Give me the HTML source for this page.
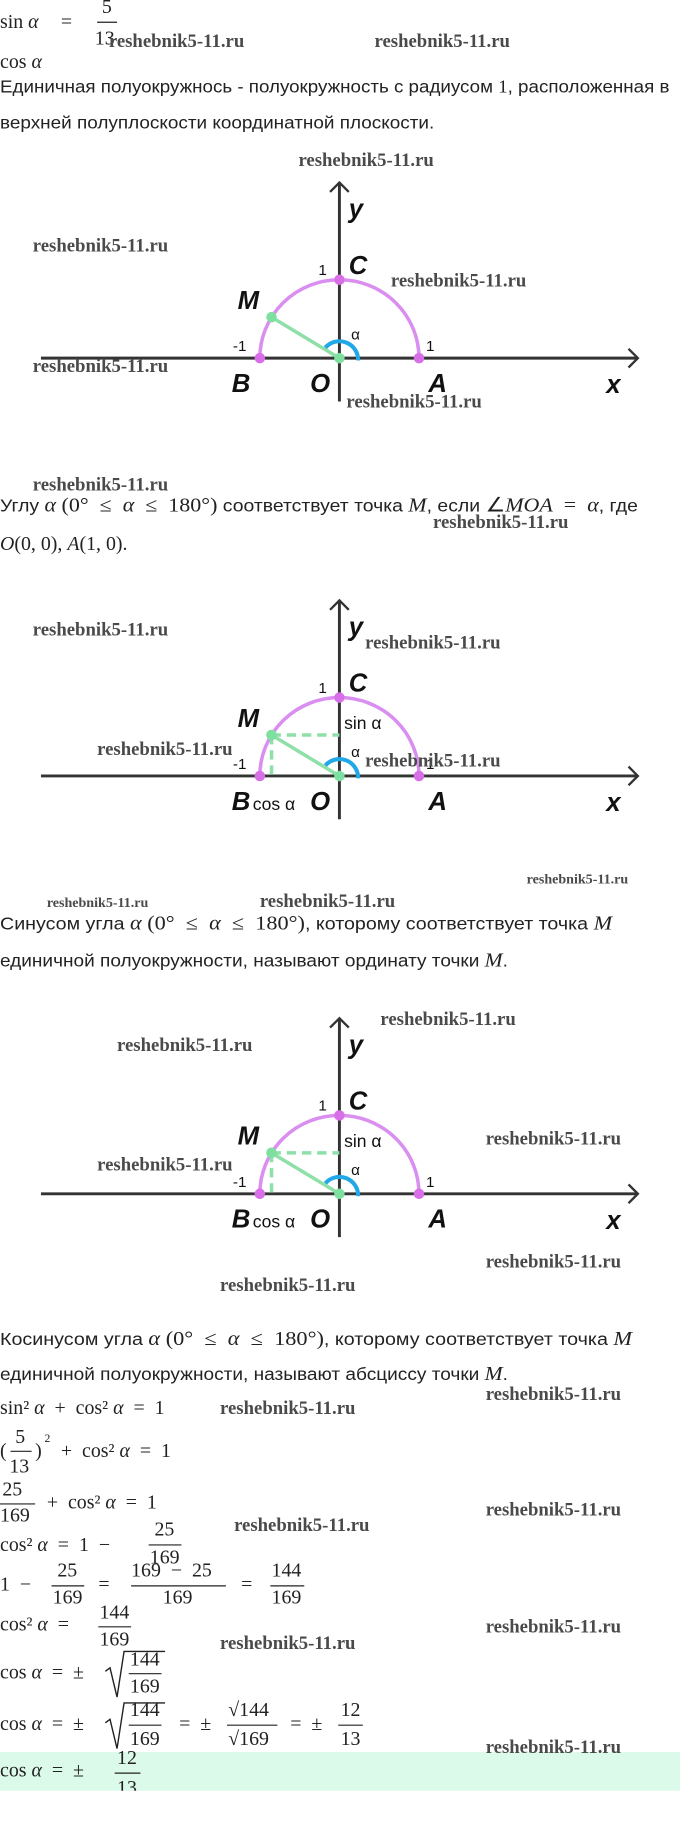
<!DOCTYPE html>
<html><head><meta charset="utf-8"><style>
html,body{margin:0;padding:0;background:#fff;width:680px;height:1834px;overflow:hidden}
svg{display:block}
text{white-space:pre}
.t{font-family:"Liberation Sans",sans-serif;font-size:15px;fill:#222}
.m{font-family:"Liberation Serif",serif;font-size:17px;fill:#222}
.mi{font-family:"Liberation Serif",serif;font-style:italic}
.w{font-family:"Liberation Serif",serif;font-weight:bold;font-size:16px;fill:#4a4a4a}
.L{font-family:"Liberation Sans",sans-serif;font-style:italic;font-weight:bold;font-size:22px;fill:#111}
.n{font-family:"Liberation Sans",sans-serif;font-size:13px;fill:#111}
</style></head><body>
<svg width="680" height="1834" viewBox="0 0 581 1567" preserveAspectRatio="none">
<defs>
<g id="base">
<line x1="35" y1="0" x2="545" y2="0" stroke="#333" stroke-width="2.5"/>
<polyline points="537,-8 545,0 537,8" fill="none" stroke="#333" stroke-width="2"/>
<line x1="290" y1="-150" x2="290" y2="37" stroke="#333" stroke-width="2.5"/>
<polyline points="282,-142 290,-150 298,-142" fill="none" stroke="#333" stroke-width="2"/>
<path d="M222 0 A68 67 0 0 1 358 0" fill="none" stroke="#d98ef0" stroke-width="3"/>
<line x1="290" y1="0" x2="232" y2="-35" stroke="#8fe0a8" stroke-width="3"/>
<path d="M306 2 A16 16 0 0 0 278 -9" fill="none" stroke="#22a8e6" stroke-width="3.5"/>
<circle cx="222" cy="0" r="4.5" fill="#d96fe8"/><circle cx="358" cy="0" r="4.5" fill="#d96fe8"/>
<circle cx="290" cy="-67" r="4.5" fill="#d96fe8"/>
<circle cx="290" cy="0" r="4.5" fill="#7ee0a0"/><circle cx="232" cy="-35" r="4.5" fill="#7ee0a0"/>
<text class="L" x="298" y="-120">y</text>
<text class="L" x="298" y="-72">C</text><text class="n" x="272" y="-71">1</text>
<text class="L" x="203" y="-42">M</text>
<text class="L" x="198" y="29">B</text><text class="L" x="265" y="29">O</text>
<text class="L" x="366" y="29">A</text><text class="L" x="518" y="30">x</text>
<text class="n" x="199" y="-6">-1</text><text class="n" x="364" y="-6">1</text>
<text class="n" x="300" y="-16">α</text>
</g>
<g id="ext">
<line x1="232" y1="-35" x2="290" y2="-35" stroke="#8fe0a8" stroke-width="3" stroke-dasharray="8,5"/>
<line x1="232" y1="-35" x2="232" y2="0" stroke="#8fe0a8" stroke-width="3" stroke-dasharray="8,5"/>
<circle cx="232" cy="-35" r="4.5" fill="#7ee0a0"/>
<text class="n" x="294" y="-40" style="font-size:15px">sin α</text>
<text class="n" x="216" y="29" style="font-size:15px">cos α</text>
</g>
</defs>

<text class="m" y="24">sin <tspan class="mi">α</tspan></text><text class="m" x="52" y="24">=</text>
<text class="m" x="87" y="11">5</text><line x1="83" y1="19" x2="100" y2="19" stroke="#222"/>
<text class="m" x="81" y="38">13</text>
<text class="m" y="58">cos <tspan class="mi">α</tspan></text>
<text class="w" x="93" y="40">reshebnik5-11.ru</text><text class="w" x="320" y="40">reshebnik5-11.ru</text>
<text class="t" x="0" y="79" textLength="572" lengthAdjust="spacingAndGlyphs">Единичная полуокружнось - полуокружность с радиусом <tspan style="font-family:'Liberation Serif'">1</tspan>, расположенная в</text>
<text class="t" x="0" y="110" textLength="371" lengthAdjust="spacingAndGlyphs">верхней полуплоскости координатной плоскости.</text>

<g transform="translate(0,306)"><use href="#base"/></g>
<text class="w" x="255" y="142">reshebnik5-11.ru</text><text class="w" x="28" y="215">reshebnik5-11.ru</text>
<text class="w" x="334" y="245">reshebnik5-11.ru</text><text class="w" x="28" y="318">reshebnik5-11.ru</text>
<text class="w" x="296" y="348">reshebnik5-11.ru</text>

<text class="w" x="28" y="419">reshebnik5-11.ru</text>
<text class="t" x="0" y="437" textLength="545" lengthAdjust="spacingAndGlyphs">Углу <tspan class="mi" style="font-size:17px">α</tspan><tspan style="font-family:'Liberation Serif';font-size:17px"> (0°  ≤  </tspan><tspan class="mi" style="font-size:17px">α</tspan><tspan style="font-family:'Liberation Serif';font-size:17px">  ≤  180°)</tspan> соответствует точка <tspan class="mi" style="font-size:17px">M</tspan>, если <tspan style="font-family:'Liberation Serif';font-size:17px">∠</tspan><tspan class="mi" style="font-size:17px">MOA</tspan><tspan style="font-family:'Liberation Serif';font-size:17px">  =  </tspan><tspan class="mi" style="font-size:17px">α</tspan>, где</text>
<text class="w" x="370" y="451">reshebnik5-11.ru</text>
<text class="m" x="0" y="470"><tspan class="mi">O</tspan>(0, 0), <tspan class="mi">A</tspan>(1, 0).</text>

<g transform="translate(0,663)"><use href="#base"/><use href="#ext"/></g>
<text class="w" x="28" y="543">reshebnik5-11.ru</text><text class="w" x="312" y="554">reshebnik5-11.ru</text>
<text class="w" x="83" y="645">reshebnik5-11.ru</text><text class="w" x="312" y="655">reshebnik5-11.ru</text>
<text class="w" x="450" y="755" style="font-size:12px">reshebnik5-11.ru</text>
<text class="w" x="40" y="775" style="font-size:12px">reshebnik5-11.ru</text>
<text class="w" x="222" y="775">reshebnik5-11.ru</text>
<text class="t" x="0" y="794" textLength="523" lengthAdjust="spacingAndGlyphs">Синусом угла <tspan class="mi" style="font-size:17px">α</tspan><tspan style="font-family:'Liberation Serif';font-size:17px"> (0°  ≤  </tspan><tspan class="mi" style="font-size:17px">α</tspan><tspan style="font-family:'Liberation Serif';font-size:17px">  ≤  180°)</tspan>, которому соответствует точка <tspan class="mi" style="font-size:17px">M</tspan></text>
<text class="t" x="0" y="826" textLength="434" lengthAdjust="spacingAndGlyphs">единичной полуокружности, называют ординату точки <tspan class="mi" style="font-size:17px">M</tspan>.</text>

<g transform="translate(0,1020)"><use href="#base"/><use href="#ext"/></g>
<text class="w" x="100" y="898">reshebnik5-11.ru</text><text class="w" x="325" y="876">reshebnik5-11.ru</text>
<text class="w" x="415" y="978">reshebnik5-11.ru</text><text class="w" x="83" y="1000">reshebnik5-11.ru</text>
<text class="w" x="415" y="1083">reshebnik5-11.ru</text><text class="w" x="188" y="1103">reshebnik5-11.ru</text>

<text class="t" x="0" y="1149" textLength="540" lengthAdjust="spacingAndGlyphs">Косинусом угла <tspan class="mi" style="font-size:17px">α</tspan><tspan style="font-family:'Liberation Serif';font-size:17px"> (0°  ≤  </tspan><tspan class="mi" style="font-size:17px">α</tspan><tspan style="font-family:'Liberation Serif';font-size:17px">  ≤  180°)</tspan>, которому соответствует точка <tspan class="mi" style="font-size:17px">M</tspan></text>
<text class="t" x="0" y="1179" textLength="434" lengthAdjust="spacingAndGlyphs">единичной полуокружности, называют абсциссу точки <tspan class="mi" style="font-size:17px">M</tspan>.</text>

<text class="w" x="188" y="1208">reshebnik5-11.ru</text><text class="w" x="415" y="1196">reshebnik5-11.ru</text>
<text class="m" x="0" y="1208">sin² <tspan class="mi">α</tspan>  +  cos² <tspan class="mi">α</tspan>  =  1</text>

<text class="m" x="0" y="1245">(</text><text class="m" x="13" y="1233">5</text><line x1="9" y1="1240" x2="27" y2="1240" stroke="#222"/><text class="m" x="8" y="1258">13</text>
<text class="m" x="30" y="1245">)</text><text class="m" x="38" y="1232" style="font-size:10px">2</text>
<text class="m" x="52" y="1245">+  cos² <tspan class="mi">α</tspan>  =  1</text>

<text class="m" x="2" y="1278">25</text><line x1="0" y1="1285" x2="30" y2="1285" stroke="#222"/><text class="m" x="0" y="1300">169</text>
<text class="m" x="40" y="1289">+  cos² <tspan class="mi">α</tspan>  =  1</text>
<text class="w" x="415" y="1295">reshebnik5-11.ru</text><text class="w" x="200" y="1308">reshebnik5-11.ru</text>

<text class="m" x="0" y="1325">cos² <tspan class="mi">α</tspan>  =  1  −</text>
<text class="m" x="132" y="1312">25</text><line x1="127" y1="1320" x2="155" y2="1320" stroke="#222"/><text class="m" x="128" y="1336">169</text>

<text class="m" x="0" y="1359">1  −</text>
<text class="m" x="49" y="1347">25</text><line x1="44" y1="1355" x2="72" y2="1355" stroke="#222"/><text class="m" x="45" y="1370">169</text>
<text class="m" x="84" y="1359">=</text>
<text class="m" x="112" y="1347">169  −  25</text><line x1="112" y1="1355" x2="193" y2="1355" stroke="#222"/><text class="m" x="139" y="1370">169</text>
<text class="m" x="206" y="1359">=</text>
<text class="m" x="232" y="1347">144</text><line x1="231" y1="1355" x2="260" y2="1355" stroke="#222"/><text class="m" x="232" y="1370">169</text>

<text class="m" x="0" y="1393">cos² <tspan class="mi">α</tspan>  =</text>
<text class="m" x="85" y="1383">144</text><line x1="84" y1="1390" x2="112" y2="1390" stroke="#222"/><text class="m" x="85" y="1406">169</text>
<text class="w" x="415" y="1395">reshebnik5-11.ru</text><text class="w" x="188" y="1409">reshebnik5-11.ru</text>

<text class="m" x="0" y="1434">cos <tspan class="mi">α</tspan>  =  ±</text>
<path d="M90 1428 L94 1425 L100 1450 L106 1411 L141 1411" fill="none" stroke="#222" stroke-width="1.2"/>
<text class="m" x="111" y="1423">144</text><line x1="110" y1="1430" x2="138" y2="1430" stroke="#222"/><text class="m" x="111" y="1446">169</text>

<text class="m" x="0" y="1478">cos <tspan class="mi">α</tspan>  =  ±</text>
<path d="M90 1472 L94 1469 L100 1494 L106 1455 L141 1455" fill="none" stroke="#222" stroke-width="1.2"/>
<text class="m" x="111" y="1466">144</text><line x1="110" y1="1474" x2="138" y2="1474" stroke="#222"/><text class="m" x="111" y="1491">169</text>
<text class="m" x="153" y="1478">=  ±</text>
<text class="m" x="195" y="1466">√144</text><line x1="194" y1="1474" x2="237" y2="1474" stroke="#222"/><text class="m" x="195" y="1491">√169</text>
<text class="m" x="248" y="1478">=  ±</text>
<text class="m" x="291" y="1466">12</text><line x1="289" y1="1474" x2="310" y2="1474" stroke="#222"/><text class="m" x="291" y="1491">13</text>

<rect x="0" y="1497" width="581" height="33" fill="#dcfaea"/>
<text class="w" x="415" y="1498">reshebnik5-11.ru</text>
<svg x="0" y="1470" width="581" height="60" overflow="hidden">
<text class="m" x="0" y="48">cos <tspan class="mi">α</tspan>  =  ±</text>
<text class="m" x="100" y="37">12</text><line x1="98" y1="45" x2="120" y2="45" stroke="#222"/><text class="m" x="100" y="63">13</text>
</svg>
</svg>
</body></html>
